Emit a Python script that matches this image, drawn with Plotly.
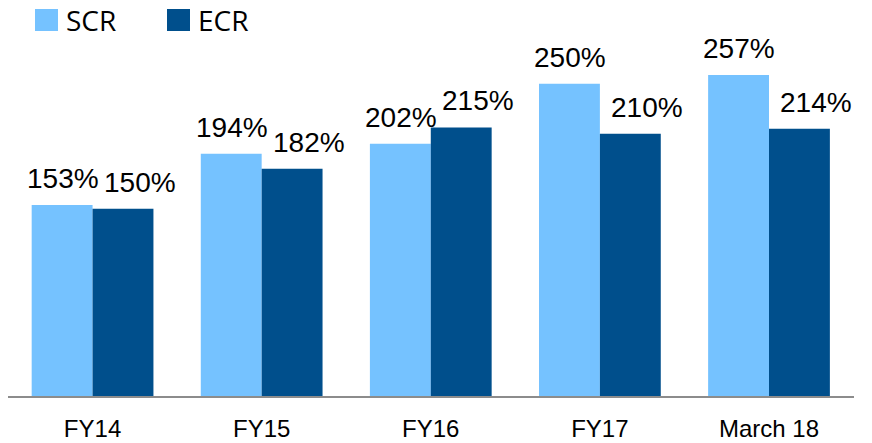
import plotly.graph_objects as go

categories = ["FY14", "FY15", "FY16", "FY17", "March 18"]
scr_values = [153, 194, 202, 250, 257]
ecr_values = [150, 182, 215, 210, 214]
series_names = ["SCR", "ECR"]
scr_color = "#75C2FF"
ecr_color = "#004F8C"

W, H = 872, 443
ML, MR, MT, MB = 8, 18, 40, 47
PW, PH = W - ML - MR, H - MT - MB


def px_x(p):
    return (p - ML) / PW


def px_y(p):
    return 1 - (p - MT) / PH


fig = go.Figure()
fig.add_trace(go.Bar(x=categories, y=scr_values, name=series_names[0],
                     marker=dict(color=scr_color, line=dict(width=0))))
fig.add_trace(go.Bar(x=categories, y=ecr_values, name=series_names[1],
                     marker=dict(color=ecr_color, line=dict(width=0))))

label_font = dict(family="Liberation Sans, Arial, sans-serif", size=28, color="black")
annotations = []
for c, v in zip(categories, scr_values):
    annotations.append(dict(x=c, y=v, text=f"{v}%", showarrow=False, xref="x", yref="y",
                            xanchor="center", yanchor="bottom", xshift=-30, yshift=9,
                            font=label_font))
for c, v in zip(categories, ecr_values):
    annotations.append(dict(x=c, y=v, text=f"{v}%", showarrow=False, xref="x", yref="y",
                            xanchor="center", yanchor="bottom", xshift=47, yshift=9,
                            font=label_font))

# manual legend
legend_font = dict(family="Open Sans, Noto Sans, sans-serif", size=28, color="black")
shapes = []
for name, color, sx, tx in [(series_names[0], scr_color, 35, 64), (series_names[1], ecr_color, 167, 196)]:
    shapes.append(dict(type="rect", xref="paper", yref="paper",
                       x0=px_x(sx), x1=px_x(sx + 23), y0=px_y(31), y1=px_y(9),
                       fillcolor=color, line=dict(width=0), layer="above"))
    annotations.append(dict(x=px_x(tx), y=px_y(20), xref="paper", yref="paper", text=name,
                            showarrow=False, xanchor="left", yanchor="middle", font=legend_font))

fig.update_layout(
    width=W, height=H,
    margin=dict(l=ML, r=MR, t=MT, b=MB),
    paper_bgcolor="white", plot_bgcolor="white",
    barmode="group", bargap=0.28, bargroupgap=0,
    showlegend=False,
    annotations=annotations,
    shapes=shapes,
    xaxis=dict(showline=True, linecolor="#8C8C8C", linewidth=2, showgrid=False,
               automargin=False,
               ticks="outside", ticklen=10, tickcolor="rgba(0,0,0,0)",
               tickfont=dict(family="Liberation Sans, Arial, sans-serif", size=24, color="black")),
    yaxis=dict(range=[0, 285], visible=False, showgrid=False, automargin=False),
)

fig.write_html("out.html",
               config={"displayModeBar": False},
               post_script="document.body.style.margin='0';document.body.style.overflow='hidden';")
